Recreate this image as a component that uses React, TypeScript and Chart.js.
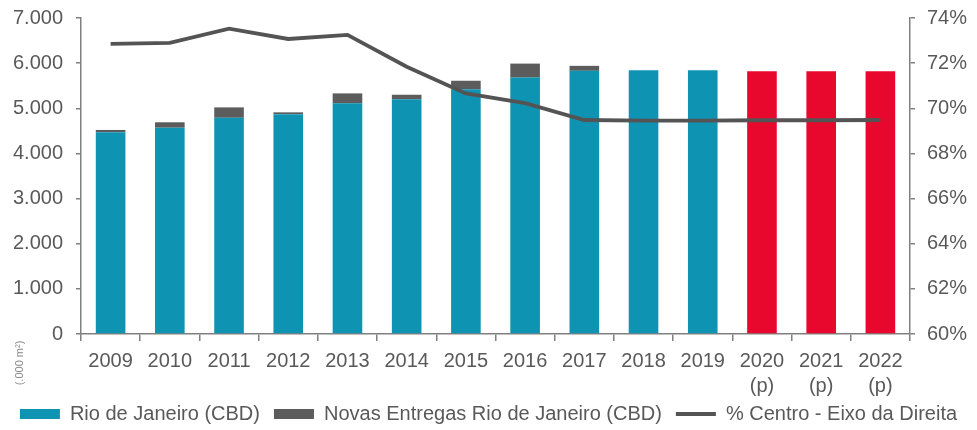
import { useEffect, useRef } from 'react';
import { Chart, registerables } from 'chart.js';

Chart.register(...registerables);

const categories = ['2009', '2010', '2011', '2012', '2013', '2014', '2015', '2016', '2017', '2018', '2019', '2020 (p)', '2021 (p)', '2022 (p)'];
const rioCBD = [4470, 4570, 4790, 4870, 5110, 5200, 5420, 5680, 5830, 5840, 5840, 5820, 5820, 5820];
const novasEntregas = [50, 120, 230, 40, 220, 100, 190, 310, 110, 0, 0, 0, 0, 0];
const pctCentro = [72.85, 72.9, 73.53, 73.07, 73.25, 71.84, 70.66, 70.23, 69.48, 69.45, 69.45, 69.47, 69.47, 69.48];
const leftTicks = [0, 1000, 2000, 3000, 4000, 5000, 6000, 7000];
const rightTicks = [60, 62, 64, 66, 68, 70, 72, 74];

const seriesNames = ['Rio de Janeiro (CBD)', 'Novas Entregas Rio de Janeiro (CBD)', '% Centro - Eixo da Direita'];
const unitLabel = '(.000 m²)';

const BLUE = '#0f93b3';
const RED = '#e8072d';
const DARK = '#5c5c5c';
const LINE = '#545454';
const TEXT = '#595959';
const AXIS = '#808080';
const FONT = '"Liberation Sans", Arial, sans-serif';

const fmtThousands = (v: number) => String(v).replace(/\B(?=(\d{3})+(?!\d))/g, '.');

const unitLabelPlugin = {
  id: 'unitLabel',
  afterLayout(chart: any) {
    const lg = chart.legend;
    if (lg) {
      lg.top -= 6;
      lg.bottom -= 6;
    }
  },
  afterDraw(chart: any) {
    const { ctx, chartArea } = chart;
    ctx.save();
    ctx.translate(20, chartArea.bottom + 29);
    ctx.rotate(-Math.PI / 2);
    ctx.font = `11px ${FONT}`;
    ctx.fillStyle = '#8a8a8a';
    ctx.textAlign = 'center';
    ctx.textBaseline = 'middle';
    ctx.fillText(unitLabel, 0, 0);
    ctx.restore();
  },
};

const noScalePadding = (s: any) => {
  s.paddingTop = 0;
  s.paddingBottom = 0;
};

export default function App() {
  const ref = useRef<HTMLCanvasElement | null>(null);

  useEffect(() => {
    if (!ref.current) return;
    const isProjected = categories.map((c) => c.includes('(p)'));
    const chart = new Chart(ref.current, {
      data: {
        labels: categories.map((c) => c.split(' ')),
        datasets: [
          {
            type: 'line',
            label: seriesNames[2],
            data: pctCentro,
            yAxisID: 'y1',
            borderColor: LINE,
            backgroundColor: LINE,
            borderWidth: 3.8,
            pointRadius: 0,
            tension: 0,
            order: 0,
          },
          {
            type: 'bar',
            label: seriesNames[0],
            data: rioCBD,
            yAxisID: 'y',
            backgroundColor: (ctx: any) => (isProjected[ctx.dataIndex] ? RED : BLUE),
            categoryPercentage: 1,
            barPercentage: 0.5,
            stack: 's',
            order: 1,
          },
          {
            type: 'bar',
            label: seriesNames[1],
            data: novasEntregas,
            yAxisID: 'y',
            backgroundColor: DARK,
            categoryPercentage: 1,
            barPercentage: 0.5,
            stack: 's',
            order: 1,
          },
        ],
      } as any,
      options: {
        animation: false,
        responsive: true,
        maintainAspectRatio: false,
        layout: { padding: { left: 2, right: 2, top: 18, bottom: -10 } },
        plugins: {
          tooltip: { enabled: false },
          legend: {
            position: 'bottom',
            labels: {
              usePointStyle: true,
              pointStyleWidth: 40,
              boxHeight: 10,
              padding: 14,
              color: TEXT,
              font: { family: FONT, size: 20 },
              generateLabels: () => [
                { text: seriesNames[0], fillStyle: BLUE, strokeStyle: BLUE, lineWidth: 0, pointStyle: 'rect', datasetIndex: 1, fontColor: TEXT },
                { text: seriesNames[1], fillStyle: DARK, strokeStyle: DARK, lineWidth: 0, pointStyle: 'rect', datasetIndex: 2, fontColor: TEXT },
                { text: seriesNames[2], fillStyle: LINE, strokeStyle: LINE, lineWidth: 4, pointStyle: 'line', datasetIndex: 0, fontColor: TEXT },
              ] as any,
            },
          },
        },
        scales: {
          x: {
            stacked: true,
            offset: true,
            grid: { display: true, drawOnChartArea: false, offset: true, tickLength: 7, color: AXIS, lineWidth: 1.5 },
            border: { display: true, color: AXIS, width: 1.5 },
            ticks: { color: TEXT, font: { family: FONT, size: 20, lineHeight: 1.25 }, padding: 8, maxRotation: 0, autoSkip: false },
            afterFit: (s: any) => { s.height = 62; s.paddingLeft = 0; s.paddingRight = 0; },
          },
          y: {
            type: 'linear',
            position: 'left',
            stacked: true,
            min: 0,
            max: 7000,
            afterBuildTicks: (s: any) => { s.ticks = leftTicks.map((v) => ({ value: v })); },
            grid: { display: true, drawOnChartArea: false, tickLength: 5, color: AXIS, lineWidth: 1.5 },
            border: { display: true, color: AXIS, width: 1.5 },
            ticks: { color: TEXT, font: { family: FONT, size: 20 }, padding: 13, callback: (v: any) => fmtThousands(Number(v)) },
            afterFit: (s: any) => { s.width = 79; noScalePadding(s); },
          },
          y1: {
            type: 'linear',
            position: 'right',
            min: 60,
            max: 74,
            afterBuildTicks: (s: any) => { s.ticks = rightTicks.map((v) => ({ value: v })); },
            grid: { display: true, drawOnChartArea: false, tickLength: 5, color: AXIS, lineWidth: 1.5 },
            border: { display: true, color: AXIS, width: 1.5 },
            ticks: { color: TEXT, font: { family: FONT, size: 20 }, padding: 12, callback: (v: any) => `${v}%` },
            afterFit: (s: any) => { s.width = 65; noScalePadding(s); },
          },
        },
      } as any,
      plugins: [unitLabelPlugin],
    });
    return () => chart.destroy();
  }, []);

  return (
    <div style={{ position: 'absolute', left: 0, top: 0, width: 977, height: 430 }}>
      <canvas ref={ref} />
    </div>
  );
}
